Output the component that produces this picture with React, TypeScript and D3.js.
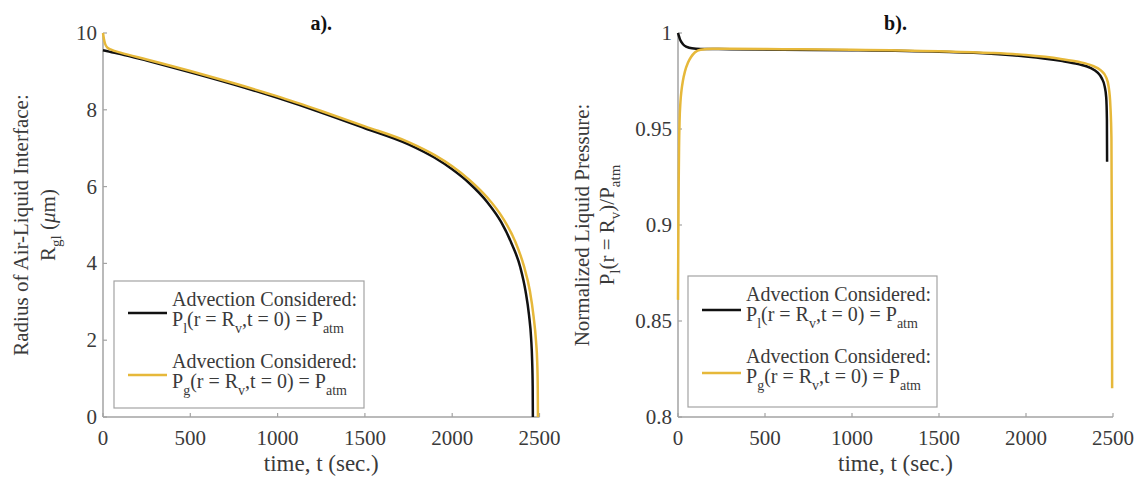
import React from 'react';
import * as d3 from 'd3';

// ---------- data ----------
const timeTicks = [0, 500, 1000, 1500, 2000, 2500];
const radiusTicks = [0, 2, 4, 6, 8, 10];
const pressureTicks = [0.8, 0.85, 0.9, 0.95, 1];
const pressureTickLabels = ['0.8', '0.85', '0.9', '0.95', '1'];

// panel a) – black: P_l(r=R_v,t=0)=P_atm
const tRadiusLiquid = [0, 20, 50, 100, 250, 500, 750, 1000, 1250, 1500, 1750, 1900, 2000, 2100, 2200, 2280, 2340, 2390, 2420, 2440, 2452, 2458, 2461, 2462];
const radiusLiquid = [9.55, 9.53, 9.5, 9.45, 9.28, 8.98, 8.66, 8.31, 7.93, 7.52, 7.1, 6.75, 6.45, 6.08, 5.6, 5.08, 4.52, 3.9, 3.28, 2.65, 2.05, 1.45, 0.8, 0];
// panel a) – yellow: P_g(r=R_v,t=0)=P_atm
const tRadiusGas = [0, 5, 12, 25, 50, 100, 250, 500, 750, 1000, 1250, 1500, 1750, 1900, 2000, 2100, 2200, 2290, 2360, 2410, 2445, 2466, 2480, 2487, 2490, 2491];
const radiusGas = [10.0, 9.85, 9.72, 9.62, 9.56, 9.49, 9.31, 9.01, 8.69, 8.35, 7.97, 7.57, 7.16, 6.82, 6.53, 6.17, 5.72, 5.18, 4.58, 3.94, 3.28, 2.62, 1.98, 1.42, 0.75, 0];

// panel b) – black
const tPressureLiquid = [0, 5, 11, 20, 30, 50, 80, 130, 300, 600, 1000, 1500, 1800, 2000, 2200, 2300, 2370, 2410, 2435, 2452, 2461, 2465, 2466];
const pressureLiquid = [1.0, 0.9985, 0.9968, 0.9952, 0.994, 0.9928, 0.992, 0.9917, 0.9916, 0.9913, 0.991, 0.9902, 0.9892, 0.9878, 0.9855, 0.9838, 0.9818, 0.9795, 0.9765, 0.9722, 0.9665, 0.955, 0.933];
// panel b) – yellow
const tPressureGas = [0, 1, 2, 3, 4, 6, 9, 14, 20, 28, 40, 57, 75, 98, 130, 200, 300, 600, 1000, 1500, 1800, 2000, 2200, 2300, 2380, 2430, 2460, 2475, 2485, 2491, 2494, 2495];
const pressureGas = [0.861, 0.878, 0.895, 0.91, 0.922, 0.94, 0.954, 0.964, 0.970, 0.975, 0.980, 0.9845, 0.9875, 0.99, 0.9913, 0.9918, 0.9918, 0.9916, 0.9913, 0.9905, 0.9896, 0.9885, 0.9865, 0.985, 0.983, 0.9805, 0.977, 0.972, 0.962, 0.945, 0.88, 0.815];

const COLOR_LIQ = '#111111';
const COLOR_GAS = '#E6B83A';
const AXIS = '#a3a3a3';
const TXT = '#3a3a3a';
const FONT = "'Liberation Serif', 'Times New Roman', serif";

type Part = { t: string; sub?: boolean; it?: boolean };

function Rich({ x, y, parts, size, anchor = 'start', transform, fill = TXT, subSize, subDy }:
  { x: number; y: number; parts: Part[]; size: number; anchor?: string; transform?: string; fill?: string; subSize?: number; subDy?: number }) {
  const ss = subSize ?? Math.round(size * 0.7);
  const sd = subDy ?? Math.round(size * 0.35);
  let cur = 0;
  return (
    <text x={x} y={y} fontSize={size} textAnchor={anchor} transform={transform} fill={fill} fontFamily={FONT}>
      {parts.map((p, i) => {
        const target = p.sub ? sd : 0;
        const dy = target - cur;
        cur = target;
        return (
          <tspan key={i} dy={dy} fontSize={p.sub ? ss : size} fontStyle={p.it ? 'italic' : 'normal'}>{p.t}</tspan>
        );
      })}
    </text>
  );
}

const legendTitle = 'Advection Considered:';
const legendLine2Liquid: Part[] = [{ t: 'P' }, { t: 'l', sub: true }, { t: '(r = R' }, { t: 'v', sub: true }, { t: ',t = 0) = P' }, { t: 'atm', sub: true }];
const legendLine2Gas: Part[] = [{ t: 'P' }, { t: 'g', sub: true }, { t: '(r = R' }, { t: 'v', sub: true }, { t: ',t = 0) = P' }, { t: 'atm', sub: true }];

function Legend({ x0, y0, x1, y1, lineY1, lineY2 }: { x0: number; y0: number; x1: number; y1: number; lineY1: number; lineY2: number }) {
  const lx0 = x0 + 14, lx1 = x0 + 53, tx = x0 + 58;
  return (
    <g>
      <rect x={x0} y={y0} width={x1 - x0} height={y1 - y0} fill="#fff" stroke={AXIS} strokeWidth={1.2} />
      <line x1={lx0} x2={lx1} y1={lineY1} y2={lineY1} stroke={COLOR_LIQ} strokeWidth={2.5} />
      <line x1={lx0} x2={lx1} y1={lineY2} y2={lineY2} stroke={COLOR_GAS} strokeWidth={2.5} />
      <text x={tx} y={y0 + 25} fontSize={20} fill={TXT} fontFamily={FONT}>{legendTitle}</text>
      <Rich x={tx} y={y0 + 45} parts={legendLine2Liquid} size={20} subSize={14} subDy={7} />
      <text x={tx} y={y0 + 87} fontSize={20} fill={TXT} fontFamily={FONT}>{legendTitle}</text>
      <Rich x={tx} y={y0 + 107} parts={legendLine2Gas} size={20} subSize={14} subDy={7} />
    </g>
  );
}

function Panel({ x0, x1, y0, y1, yDomain, yTicks, yTickLabels, series, title, ylab1, ylab2, ylabX1, ylabX2, legend }: any) {
  const xs = d3.scaleLinear().domain([0, 2500]).range([x0, x1]);
  const ys = d3.scaleLinear().domain(yDomain).range([y0, y1]);
  const line = d3.line<[number, number]>().x(d => xs(d[0])).y(d => ys(d[1])).curve(d3.curveMonotoneX);
  const cx = (x0 + x1) / 2;
  const cy = (y0 + y1) / 2;
  return (
    <g>
      <line x1={x0} x2={x1} y1={y0} y2={y0} stroke={AXIS} strokeWidth={1.5} />
      <line x1={x0} x2={x0} y1={y0} y2={y1} stroke={AXIS} strokeWidth={1.5} />
      {timeTicks.map(t => (
        <g key={'xt' + t}>
          <line x1={xs(t)} x2={xs(t)} y1={y0} y2={y0 - 4} stroke={AXIS} strokeWidth={1.2} />
          <text x={xs(t)} y={445} fontSize={21} textAnchor="middle" fill={TXT} fontFamily={FONT}>{t}</text>
        </g>
      ))}
      {yTicks.map((v: number, i: number) => (
        <g key={'yt' + v}>
          <line x1={x0} x2={x0 + 4} y1={ys(v)} y2={ys(v)} stroke={AXIS} strokeWidth={1.2} />
          <text x={x0 - 6} y={ys(v) + 7} fontSize={21} textAnchor="end" fill={TXT} fontFamily={FONT}>{yTickLabels[i]}</text>
        </g>
      ))}
      {series.map((s: any, i: number) => (
        <path key={i} d={line(s.t.map((t: number, j: number) => [t, s.v[j]])) || ''} fill="none" stroke={s.color} strokeWidth={2.5} strokeLinejoin="round" />
      ))}
      <text x={cx} y={30} fontSize={20} fontWeight="bold" textAnchor="middle" fill="#111" fontFamily={FONT}>{title}</text>
      <text x={cx} y={471} fontSize={23} textAnchor="middle" fill={TXT} fontFamily={FONT}>time, t (sec.)</text>
      <Rich x={0} y={0} parts={ylab1} size={21} anchor="middle" transform={`translate(${ylabX1},${cy}) rotate(-90)`} />
      <Rich x={0} y={0} parts={ylab2} size={21} anchor="middle" transform={`translate(${ylabX2},${cy}) rotate(-90)`} subSize={15} subDy={6} />
      <Legend {...legend} />
    </g>
  );
}

export default function App() {
  return (
    <svg width={1145} height={480} style={{ position: 'absolute', left: 0, top: 0, background: '#fff' }}>
      <rect x={0} y={0} width={1145} height={480} fill="#fff" />
      <Panel
        x0={103} x1={539.5} y0={417} y1={33}
        yDomain={[0, 10]} yTicks={radiusTicks} yTickLabels={radiusTicks.map(String)}
        series={[
          { t: tRadiusLiquid, v: radiusLiquid, color: COLOR_LIQ },
          { t: tRadiusGas, v: radiusGas, color: COLOR_GAS },
        ]}
        title="a)."
        ylab1={[{ t: 'Radius of Air-Liquid Interface:' }]}
        ylab2={[{ t: 'R' }, { t: 'gl', sub: true }, { t: ' (' }, { t: 'μ', it: true }, { t: 'm)' }]}
        ylabX1={28} ylabX2={55}
        legend={{ x0: 114, y0: 281, x1: 364, y1: 408, lineY1: 313, lineY2: 375 }}
      />
      <Panel
        x0={678} x1={1113} y0={417} y1={33}
        yDomain={[0.8, 1]} yTicks={pressureTicks} yTickLabels={pressureTickLabels}
        series={[
          { t: tPressureLiquid, v: pressureLiquid, color: COLOR_LIQ },
          { t: tPressureGas, v: pressureGas, color: COLOR_GAS },
        ]}
        title="b)."
        ylab1={[{ t: 'Normalized Liquid Pressure:' }]}
        ylab2={[{ t: 'P' }, { t: 'l', sub: true }, { t: '(r = R' }, { t: 'v', sub: true }, { t: ')/P' }, { t: 'atm', sub: true }]}
        ylabX1={589} ylabX2={614}
        legend={{ x0: 688, y0: 276, x1: 937, y1: 407, lineY1: 310, lineY2: 373 }}
      />
    </svg>
  );
}
